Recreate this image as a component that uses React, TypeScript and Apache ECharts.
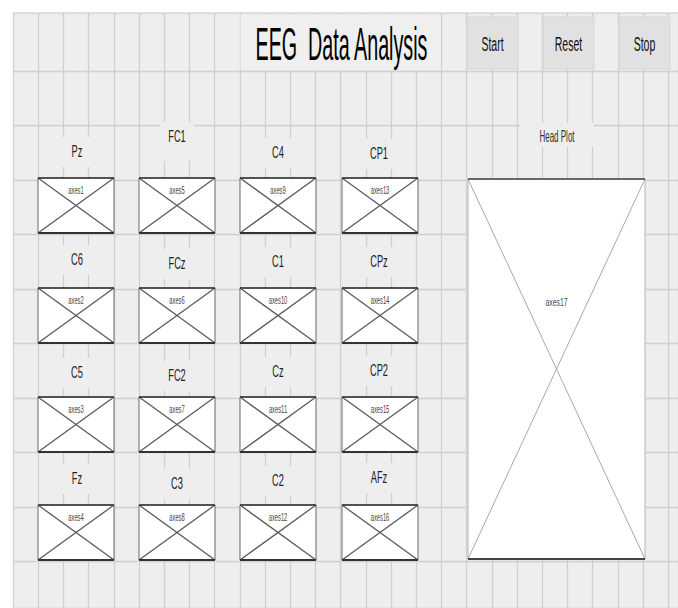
import React, { useEffect, useRef } from "react";
import * as echarts from "echarts";

// ---- content ----
const titleText = "EEG  Data Analysis";
const buttonLabels = ["Start", "Reset", "Stop"];
// channel labels, one list per column of small axes
const channelLabels = [
  ["Pz", "C6", "C5", "Fz"],
  ["FC1", "FCz", "FC2", "C3"],
  ["C4", "C1", "Cz", "C2"],
  ["CP1", "CPz", "CP2", "AFz"],
];
const axesNames = [
  ["axes1", "axes2", "axes3", "axes4"],
  ["axes5", "axes6", "axes7", "axes8"],
  ["axes9", "axes10", "axes11", "axes12"],
  ["axes13", "axes14", "axes15", "axes16"],
];
const headPlotLabel = "Head Plot";
const headAxesName = "axes17";

// ---- layout (pixels) ----
const W = 678;
const H = 608;
const PANEL_X = 13;
const PANEL_Y = 13;
const GRID_DX = 25.2;
const GRID_DY = 54.5;
const HLINE_TOP = 71;
const colX = [38, 139, 240, 342];
const colW = 76;
const rowY = [178, 288, 397, 505];
const rowH = 55;
const labelX = [77, 177, 278, 379];
const labelY = [
  [151, 259, 372, 478],
  [136, 263, 375, 483],
  [152, 261, 371, 480],
  [153, 261, 370, 477],
];
const buttonX = [467, 543, 619];
const buttonW = 51;
const FONT = "'Liberation Sans', Arial, sans-serif";

function txt(x: number, y: number, text: string, size: number, sx: number, color: string) {
  return {
    type: "text",
    x,
    y,
    scaleX: sx,
    z: 20,
    silent: true,
    style: {
      text,
      font: `${size}px ${FONT}`,
      fill: color,
      textAlign: "center",
      textVerticalAlign: "middle",
      align: "center",
      verticalAlign: "middle",
    },
  };
}

function smallAxes(x: number, y: number, w: number, h: number, name: string) {
  return [
    { type: "rect", z: 10, silent: true, shape: { x, y, width: w, height: h }, style: { fill: "#ffffff", stroke: "#6a6a6a", lineWidth: 1 } },
    { type: "line", z: 11, silent: true, shape: { x1: x, y1: y, x2: x + w, y2: y + h }, style: { stroke: "#5a5a5a", lineWidth: 1.3 } },
    { type: "line", z: 11, silent: true, shape: { x1: x + w, y1: y, x2: x, y2: y + h }, style: { stroke: "#5a5a5a", lineWidth: 1.3 } },
    { type: "line", z: 12, silent: true, shape: { x1: x, y1: y, x2: x + w, y2: y }, style: { stroke: "#333", lineWidth: 1.4 } },
    { type: "line", z: 12, silent: true, shape: { x1: x, y1: y + h, x2: x + w, y2: y + h }, style: { stroke: "#333", lineWidth: 1.8 } },
    txt(x + w / 2, y + 12, name, 10.5, 0.55, "#444"),
  ];
}

export default function App() {
  const ref = useRef<HTMLDivElement>(null);
  useEffect(() => {
    if (!ref.current) return;
    const chart = echarts.init(ref.current, undefined, { renderer: "svg" });
    const elements: any[] = [];

    // panel top border
    elements.push({ type: "line", z: 5, silent: true, shape: { x1: PANEL_X, y1: PANEL_Y, x2: W, y2: PANEL_Y }, style: { stroke: "#c4c4c4", lineWidth: 1.2 } });

    // title box
    elements.push({ type: "rect", z: 10, silent: true, shape: { x: 240.5, y: 14, width: 200, height: 56 }, style: { fill: "#efefef" } });
    elements.push(txt(341.5, 43.5, titleText, 46, 0.428, "#000"));

    // buttons
    buttonLabels.forEach((b, i) => {
      elements.push({ type: "rect", z: 10, silent: true, shape: { x: buttonX[i], y: 17, width: buttonW, height: 52 }, style: { fill: "#e1e1e1", stroke: "#d6d6d6", lineWidth: 1 } });
      elements.push(txt(buttonX[i] + buttonW / 2, 44.5, b, 21, 0.5, "#111"));
    });

    // small axes and labels
    for (let c = 0; c < 4; c++) {
      for (let r = 0; r < 4; r++) {
        const lx = labelX[c];
        const ly = labelY[c][r];
        elements.push({ type: "rect", z: 9, silent: true, shape: { x: lx - 17, y: ly - 14, width: 34, height: c === 1 && r === 0 ? 39 : 30 }, style: { fill: "#eeeeee" } });
        elements.push(txt(lx, ly, channelLabels[c][r], 16.5, 0.56, "#222"));
        elements.push(...smallAxes(colX[c], rowY[r], colW, rowH, axesNames[c][r]));
      }
    }

    // head plot
    elements.push({ type: "rect", z: 9, silent: true, shape: { x: 520, y: 123, width: 74, height: 24 }, style: { fill: "#eeeeee" } });
    elements.push(txt(557, 137, headPlotLabel, 16, 0.5, "#333"));
    const hx = 468, hy = 179, hw = 177, hh = 380;
    elements.push({ type: "rect", z: 10, silent: true, shape: { x: hx, y: hy, width: hw, height: hh }, style: { fill: "#fff", stroke: "#b5b5b5", lineWidth: 1 } });
    elements.push({ type: "line", z: 11, silent: true, shape: { x1: hx, y1: hy, x2: hx + hw, y2: hy + hh }, style: { stroke: "#a8a8a8", lineWidth: 1 } });
    elements.push({ type: "line", z: 11, silent: true, shape: { x1: hx + hw, y1: hy, x2: hx, y2: hy + hh }, style: { stroke: "#a8a8a8", lineWidth: 1 } });
    elements.push({ type: "line", z: 12, silent: true, shape: { x1: hx, y1: hy, x2: hx + hw, y2: hy }, style: { stroke: "#444", lineWidth: 1.3 } });
    elements.push({ type: "line", z: 12, silent: true, shape: { x1: hx, y1: hy + hh, x2: hx + hw, y2: hy + hh }, style: { stroke: "#444", lineWidth: 2 } });
    elements.push(txt(hx + hw / 2, 302, headAxesName, 11, 0.62, "#444"));

    const hidden = { show: false };
    const gridLine = { show: true, lineStyle: { color: "#d0d0d0", width: 1.3 } };
    const vMax = (W - PANEL_X) / GRID_DX;
    const hMax = (H - HLINE_TOP) / GRID_DY;

    chart.setOption({
      animation: false,
      backgroundColor: "transparent",
      grid: [
        { left: PANEL_X, top: PANEL_Y, right: 0, bottom: 0 },
        { left: PANEL_X, top: HLINE_TOP, right: 0, bottom: 0 },
      ],
      xAxis: [
        { type: "value", gridIndex: 0, min: 0, max: vMax, interval: 1, axisLine: hidden, axisTick: hidden, axisLabel: hidden, splitLine: gridLine },
        { type: "value", gridIndex: 1, min: 0, max: 1, axisLine: hidden, axisTick: hidden, axisLabel: hidden, splitLine: hidden },
      ],
      yAxis: [
        { type: "value", gridIndex: 0, min: 0, max: 1, axisLine: hidden, axisTick: hidden, axisLabel: hidden, splitLine: hidden },
        { type: "value", gridIndex: 1, inverse: true, min: 0, max: hMax, interval: 1, axisLine: hidden, axisTick: hidden, axisLabel: hidden, splitLine: gridLine },
      ],
      series: [
        { type: "scatter", xAxisIndex: 0, yAxisIndex: 0, data: [] },
        { type: "scatter", xAxisIndex: 1, yAxisIndex: 1, data: [] },
      ],
      graphic: { elements },
    });
    return () => chart.dispose();
  }, []);

  return (
    <div style={{ position: "fixed", left: 0, top: 0, width: W, height: H, background: "#ffffff" }}>
      <div style={{ position: "absolute", left: PANEL_X, top: PANEL_Y, right: 0, bottom: 0, background: "#eeeeee" }} />
      <div ref={ref} style={{ position: "absolute", left: 0, top: 0, width: W, height: H }} />
    </div>
  );
}
